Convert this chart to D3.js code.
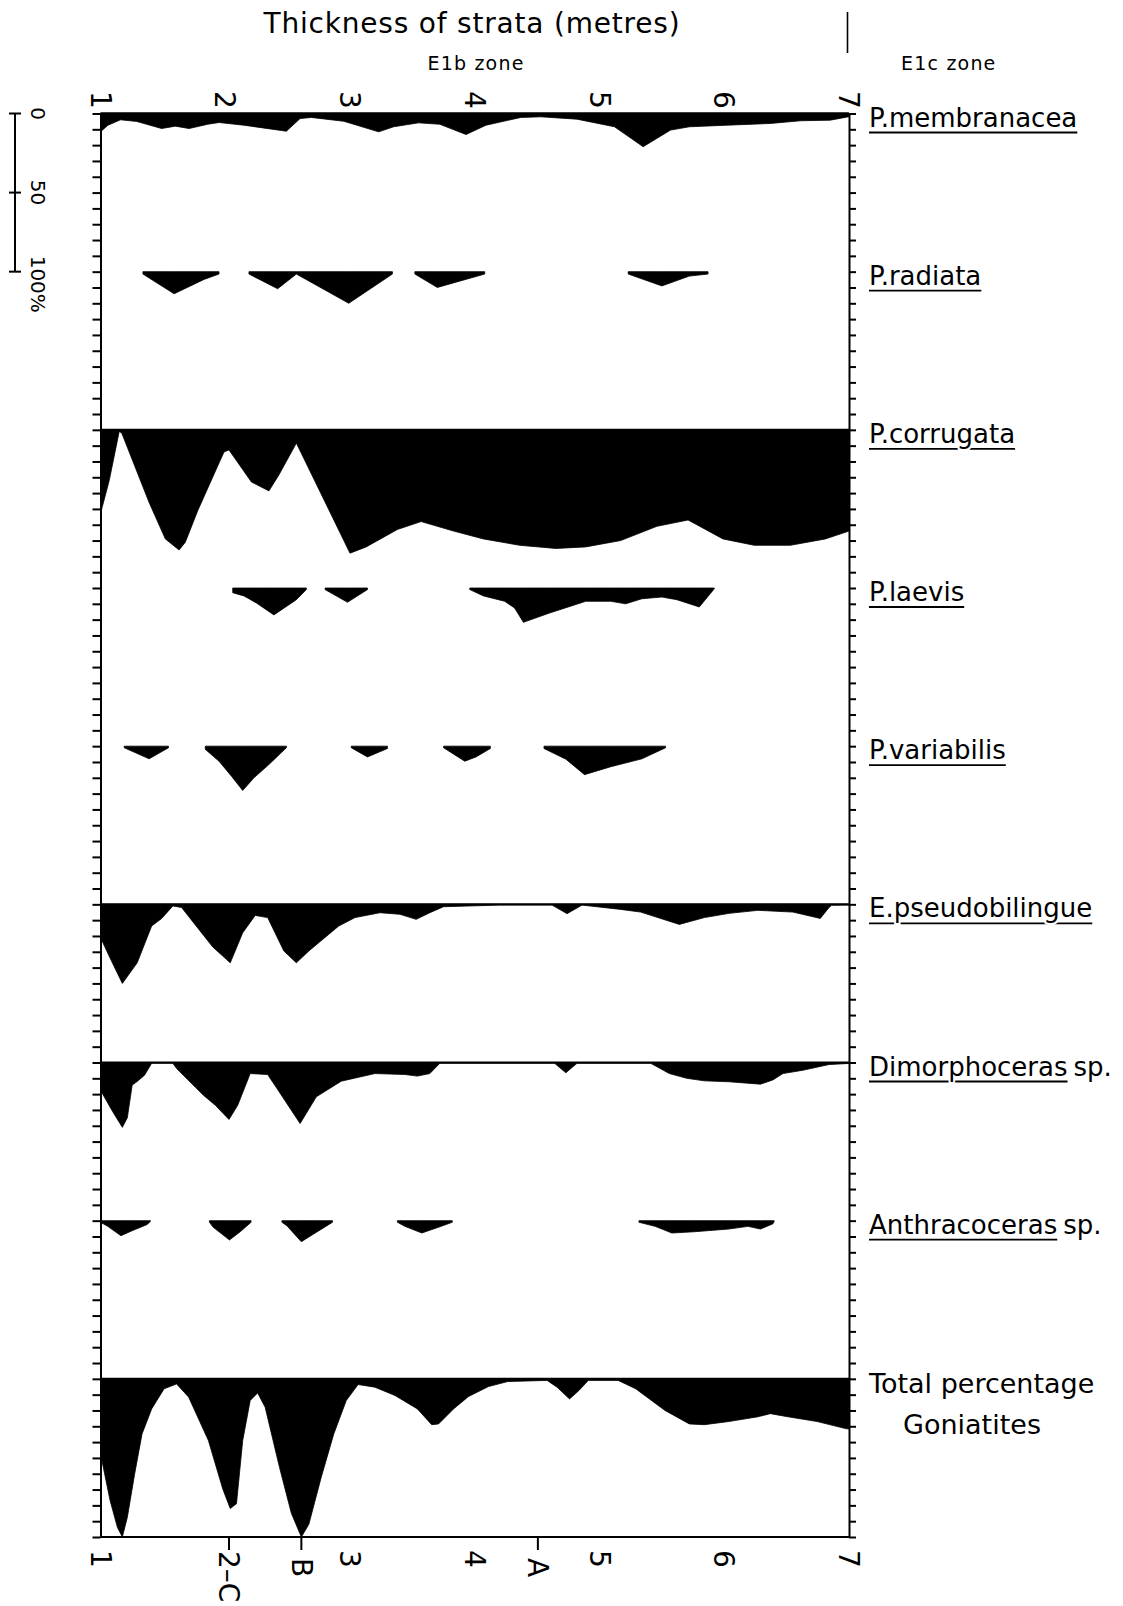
<!DOCTYPE html>
<meta charset="utf-8">
<style>
body { margin: 0; background: #fff; }
svg { display: block; font-family: "DejaVu Sans", sans-serif; }
.profile { fill: #000; stroke: #000; stroke-width: 0.8; stroke-linejoin: round; }
.frame { stroke: #000; stroke-width: 2; fill: none; }
.axis path, .axis line { stroke: #000; stroke-width: 2; }
</style>
<body>
<svg id="chart" width="1123" height="1606"></svg>

<script src="https://cdn.jsdelivr.net/npm/d3@7/dist/d3.min.js"></script>
<script>

// row labels (top to bottom)
var species = ["P.membranacea", "P.radiata", "P.corrugata", "P.laevis", "P.variabilis",
               "E.pseudobilingue", "Dimorphoceras", "Anthracoceras", "Total percentage"];
var suffixes = ["", "", "", "", "", "", "sp.", "sp.", ""];
var metreTicks = [1, 2, 3, 4, 5, 6, 7];
var sampleNames = ["2\u2013C", "B", "A"];
var samplePos = [2.03, 2.61, 4.506];
var scaleTicks = [0, 50, 100];
var scaleLabels = ["0", "50", "100%"];

// profiles: segments of [metres, percent]
var membranacea = [[[1.0, 11.6], [1.06, 7.4], [1.16, 4], [1.29, 5], [1.49, 9.5], [1.60, 8], [1.71, 9.5],
  [1.86, 6.8], [1.95, 5.7], [2.15, 7.4], [2.49, 11.2], [2.60, 3.2], [2.69, 2.5], [2.95, 4.9],
  [3.23, 11.6], [3.35, 8.4], [3.55, 5.9], [3.72, 6.8], [3.93, 13.3], [4.09, 7.4], [4.37, 2.5],
  [4.53, 2.1], [4.82, 3.6], [5.12, 8.4], [5.35, 21], [5.57, 10.5], [5.72, 8.4], [6.02, 7.4],
  [6.37, 6.3], [6.61, 4.6], [6.85, 4.2], [7.0, 2]]];

var radiata = [
  [[1.34, 1.5], [1.59, 14], [1.83, 4.9], [1.95, 1.5]],
  [[2.19, 1.5], [2.42, 10.8], [2.57, 1.5], [2.99, 20], [3.34, 1.5]],
  [[3.52, 1.5], [3.70, 10], [4.08, 1.5]],
  [[5.23, 1.5], [5.50, 9], [5.72, 2.8], [5.87, 1.5]]];

var corrugata = [[[1.0, 53], [1.07, 32], [1.15, 1], [1.17, 2], [1.39, 46], [1.52, 69], [1.63, 76],
  [1.68, 71], [1.78, 51], [1.95, 21], [1.99, 14], [2.03, 12.7], [2.21, 33], [2.35, 38.6],
  [2.43, 28.5], [2.57, 8.4], [2.79, 44], [3.00, 78], [3.13, 74], [3.38, 63], [3.57, 58],
  [3.83, 64], [4.07, 69], [4.36, 73], [4.65, 75], [4.89, 74], [5.17, 70], [5.46, 61],
  [5.71, 57], [5.99, 69], [6.24, 73], [6.53, 73], [6.81, 69], [7.0, 64]]];

var laevis = [
  [[2.06, 3], [2.15, 5], [2.25, 9.5], [2.39, 17], [2.57, 7.4], [2.65, 1]],
  [[2.80, 1], [2.98, 9], [3.14, 1]],
  [[3.96, 1], [4.07, 5], [4.24, 8.4], [4.32, 12.7], [4.39, 21.7], [4.60, 15.8], [4.89, 8.4],
   [5.09, 8.4], [5.21, 10], [5.34, 6.8], [5.50, 5.7], [5.62, 7.4], [5.80, 12], [5.92, 0.5]]];

var variabilis = [
  [[1.19, 1], [1.39, 8], [1.545, 1]],
  [[1.84, 2], [1.95, 9.5], [2.05, 19], [2.14, 28], [2.23, 20], [2.35, 11.6], [2.49, 1]],
  [[3.01, 1], [3.14, 6.8], [3.30, 1.5]],
  [[3.75, 1], [3.92, 9.5], [4.01, 6.8], [4.125, 1.5]],
  [[4.555, 1.5], [4.73, 8.2], [4.88, 18], [5.09, 13], [5.34, 8], [5.53, 1]]];

var pseudobilingue = [[[1.0, 21], [1.077, 34], [1.175, 50], [1.294, 37], [1.41, 13.7], [1.49, 9],
  [1.58, 1], [1.65, 2], [1.746, 11.6], [1.90, 27], [2.04, 37], [2.14, 18], [2.24, 7], [2.34, 8.4],
  [2.47, 29.5], [2.57, 37], [2.67, 29.5], [2.91, 13.7], [3.04, 8.4], [3.24, 5.3], [3.40, 6.3],
  [3.53, 9.5], [3.64, 5.3], [3.75, 1.5], [4.2, 0.5], [4.62, 0.5], [4.74, 5.9], [4.86, 0.5],
  [5.17, 3.2], [5.33, 4.9], [5.64, 12.7], [5.84, 8.4], [6.04, 5.7], [6.27, 3.8], [6.55, 4.9],
  [6.77, 8.9], [6.84, 2], [6.86, 0.6], [7.0, 0.5]]];

var dimorphoceras = [[[1.0, 17.5], [1.097, 31], [1.175, 41], [1.215, 35], [1.254, 14.3],
  [1.294, 12], [1.353, 8], [1.41, 0.5], [1.58, 0.5], [1.61, 3.8], [1.825, 20.7], [1.92, 27],
  [2.03, 36], [2.10, 27], [2.20, 7], [2.34, 7.6], [2.415, 16.5], [2.60, 38.6], [2.73, 21.7],
  [2.93, 11.8], [3.20, 7], [3.44, 7.6], [3.54, 8.6], [3.64, 7], [3.72, 0.5], [4.64, 0.5],
  [4.73, 6.5], [4.82, 0.5], [5.41, 0.5], [5.56, 7], [5.70, 10], [5.84, 11.6], [6.04, 12.2],
  [6.29, 13.7], [6.39, 11], [6.47, 7], [6.63, 4.9], [6.84, 1.3], [7.0, 0.6]]];

var anthracoceras = [
  [[1.0, 1], [1.058, 3.6], [1.164, 9.5], [1.254, 6.3], [1.373, 2.5], [1.40, 0.5]],
  [[1.873, 1], [1.904, 4.2], [2.034, 12.2], [2.12, 7], [2.207, 1]],
  [[2.454, 1], [2.494, 3.2], [2.61, 13.3], [2.73, 7.4], [2.86, 1]],
  [[3.38, 1], [3.44, 3.6], [3.576, 7.8], [3.73, 3.6], [3.82, 1]],
  [[5.316, 1], [5.446, 3.6], [5.58, 7.8], [5.76, 7], [6.036, 5.3], [6.19, 3.6], [6.29, 5.3],
   [6.39, 2], [6.40, 0.5]]];

var totalGoniatites = [[[1.0, 48], [1.006, 49.6], [1.077, 77], [1.136, 94], [1.175, 100],
  [1.215, 87.6], [1.274, 60], [1.333, 34.8], [1.41, 19], [1.51, 6.3], [1.61, 3.2], [1.707, 11.6],
  [1.865, 39], [1.98, 69.6], [2.04, 82], [2.09, 79], [2.14, 39], [2.20, 13.7], [2.26, 8.9],
  [2.32, 18], [2.435, 56], [2.53, 85], [2.61, 100], [2.67, 92], [2.77, 62], [2.87, 34.8],
  [2.97, 13.7], [3.065, 3.6], [3.20, 5.3], [3.36, 10.5], [3.54, 19], [3.655, 29], [3.71, 28.5],
  [3.83, 19], [3.95, 11.2], [4.11, 4.9], [4.265, 1.7], [4.58, 1], [4.66, 5.3], [4.76, 12.7],
  [4.835, 7.4], [4.91, 1], [5.15, 1], [5.29, 6.3], [5.525, 20], [5.72, 28.5], [5.84, 29],
  [6.036, 27], [6.27, 24], [6.37, 22], [6.51, 24], [6.745, 27], [6.98, 31.6], [7.0, 31.6]]];

var profiles = [membranacea, radiata, corrugata, laevis, variabilis,
                pseudobilingue, dimorphoceras, anthracoceras, totalGoniatites];
var fullBaseline = [true, false, true, false, false, true, true, false, true];

var svg = d3.select("#chart");

// scales: metres across, stacked percent rows down (100% per row)
var x = d3.scaleLinear().domain([1, 7]).range([100.5, 849]);
var y = d3.scaleLinear().domain([0, 900]).range([113.5, 1537]);

// profiles
profiles.forEach(function (segs, row) {
    var base = row * 100;
    var area = d3.area()
        .x(function (d) { return x(d[0]); })
        .y0(y(base))
        .y1(function (d) { return y(base + d[1]); });
    svg.append("g").selectAll("path")
        .data(segs)
        .enter().append("path")
        .attr("class", "profile")
        .attr("d", area);
    if (fullBaseline[row]) {
        svg.append("line").attr("class", "frame")
            .attr("x1", x(1)).attr("x2", x(7))
            .attr("y1", y(base)).attr("y2", y(base));
    }
});

// side axes with 10% ticks
var tickVals = d3.range(0, 901, 10);
svg.append("g").attr("class", "axis")
    .attr("transform", "translate(" + x(1) + ",0)")
    .call(d3.axisLeft(y).tickValues(tickVals).tickSize(8).tickSizeOuter(0).tickFormat(""));
svg.append("g").attr("class", "axis")
    .attr("transform", "translate(" + x(7) + ",0)")
    .call(d3.axisRight(y).tickValues(tickVals).tickSize(7).tickSizeOuter(0).tickFormat(""));

// top and bottom lines
svg.append("line").attr("class", "frame")
    .attr("x1", x(1)).attr("x2", x(7)).attr("y1", y(0)).attr("y2", y(0));
svg.append("line").attr("class", "frame")
    .attr("x1", x(1)).attr("x2", x(7)).attr("y1", y(900)).attr("y2", y(900));

// metre labels, rotated
function rotLabel(px, py, txt, size) {
    return svg.append("text")
        .attr("transform", "translate(" + px + "," + py + ") rotate(90)")
        .attr("dy", "0.35em")
        .attr("font-size", size)
        .text(txt);
}
metreTicks.forEach(function (m) {
    rotLabel(x(m), 91, m, 28);
    if (m !== 2) rotLabel(x(m), 1550, m, 28);
});

// sample markers A, B, C on bottom axis
samplePos.forEach(function (m, i) {
    svg.append("line").attr("class", "frame")
        .attr("x1", x(m)).attr("x2", x(m))
        .attr("y1", y(900)).attr("y2", y(900) + 13);
    rotLabel(x(m), i === 0 ? 1551 : 1558, sampleNames[i], 28);
});

// scale bar on the left
svg.append("line").attr("class", "frame")
    .attr("x1", 15).attr("x2", 15).attr("y1", y(0)).attr("y2", y(100));
scaleTicks.forEach(function (v, i) {
    svg.append("line").attr("class", "frame")
        .attr("x1", 9).attr("x2", 21).attr("y1", y(v)).attr("y2", y(v));
    svg.append("text")
        .attr("transform", "translate(38," + (i === 2 ? y(v) - 16 : y(v)) + ") rotate(90)")
        .attr("dy", "0.35em")
        .attr("font-size", 20)
        .attr("text-anchor", i === 2 ? "start" : "middle")
        .text(scaleLabels[i]);
});

// species labels on the right
species.forEach(function (name, row) {
    var by = y(row * 100);
    if (row === 8) {
        svg.append("text").attr("x", 869).attr("y", by + 14)
            .attr("font-size", 27).text(name);
        svg.append("text").attr("x", 972).attr("y", by + 55)
            .attr("font-size", 27).attr("text-anchor", "middle").text("Goniatites");
        return;
    }
    var g = svg.append("g");
    var ul = g.append("line").attr("stroke", "#000").attr("stroke-width", 1.8);
    var t = g.append("text").attr("x", 869).attr("y", by + 13)
        .attr("font-size", 26)
        .attr("stroke", "#fff").attr("stroke-width", 4)
        .attr("paint-order", "stroke fill")
        .text(name);
    var bb = t.node().getBBox();
    ul.attr("x1", bb.x).attr("x2", bb.x + bb.width)
        .attr("y1", by + 19).attr("y2", by + 19);
    if (suffixes[row]) {
        g.append("text").attr("x", bb.x + bb.width + 6).attr("y", by + 13)
            .attr("font-size", 26).text(suffixes[row]);
    }
});

// header
svg.append("text").attr("x", 472).attr("y", 33)
    .attr("font-size", 28).attr("letter-spacing", 0.8)
    .attr("text-anchor", "middle").text("Thickness of strata (metres)");
svg.append("line").attr("stroke", "#000").attr("stroke-width", 1.6)
    .attr("x1", x(7) - 1.5).attr("x2", x(7) - 1.5).attr("y1", 12).attr("y2", 53);
svg.append("text").attr("x", 476).attr("y", 70)
    .attr("font-size", 19).attr("letter-spacing", 1.2)
    .attr("text-anchor", "middle").text("E1b  zone");
svg.append("text").attr("x", 901).attr("y", 70)
    .attr("font-size", 19).attr("letter-spacing", 1.2)
    .text("E1c zone");

</script>
</body>
